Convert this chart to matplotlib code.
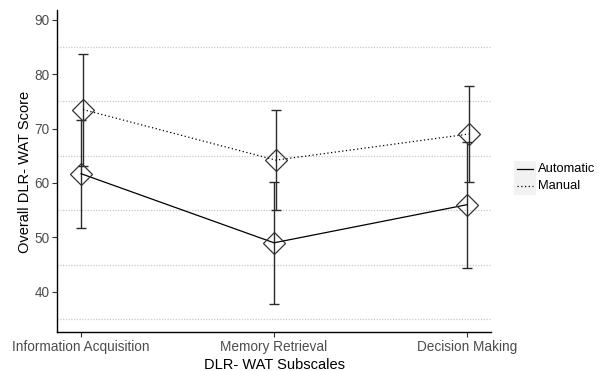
import numpy as np
import matplotlib.pyplot as plt
from matplotlib.lines import Line2D
from matplotlib.patches import Rectangle

plt.rcParams['font.family'] = ['Liberation Sans', 'DejaVu Sans']

# subscales on the x axis
subscales = ["Information Acquisition", "Memory Retrieval", "Decision Making"]

# mean scores and error bar limits per condition
auto_mean = [61.7, 49.0, 56.0]
auto_low = [51.8, 37.8, 44.3]
auto_high = [71.6, 60.2, 67.6]

manual_mean = [73.5, 64.2, 69.0]
manual_low = [63.2, 55.1, 60.1]
manual_high = [83.8, 73.4, 77.8]

series_names = ["Automatic", "Manual"]

x = np.arange(1, len(subscales) + 1)

W, H = 599, 371
fig = plt.figure(figsize=(W / 100, H / 100), dpi=100)
ax = fig.add_axes([57 / W, 1 - 332 / H, (491 - 57) / W, (332 - 10) / H])

tick_col = "#4D4D4D"
grid_col = "#C8C8C8"

# dotted minor grid
for g in [35, 45, 55, 65, 75, 85]:
    ax.axhline(g, color=grid_col, lw=0.9, ls=(0, (1, 1.2)), zorder=0)


def draw_series(xs, mean, low, high, ls):
    mean = np.array(mean)
    yerr = [mean - np.array(low), np.array(high) - mean]
    ax.errorbar(xs, mean, yerr=yerr, fmt="none", ecolor="#2A2A2A",
                elinewidth=1.0, capsize=3.3, capthick=1.0, zorder=2)
    ax.plot(xs, mean, color="black", lw=0.9, ls=ls, zorder=3)
    ax.plot(xs, mean, ls="none", marker="D", ms=11.5, mfc="none",
            mec="#333333", mew=0.9, zorder=4)


draw_series(x, auto_mean, auto_low, auto_high, "-")
draw_series(x + 0.01, manual_mean, manual_low, manual_high, (0, (1, 2)))

ax.set_xlim(0.875, 3.125)
ax.set_ylim(32.6, 91.8)
ax.set_xticks(x)
ax.set_xticklabels(subscales)
ax.set_yticks([40, 50, 60, 70, 80, 90])

for s in ["top", "right"]:
    ax.spines[s].set_visible(False)
for s in ["left", "bottom"]:
    ax.spines[s].set_color("black")
    ax.spines[s].set_linewidth(1.0)

ax.tick_params(axis="both", colors=tick_col, labelsize=9.8, length=3.5,
               width=0.8, pad=2)
ax.tick_params(axis="both", color="#333333")

fig.text(274 / W, 1 - 365 / H, "DLR- WAT Subscales", fontsize=10.5,
         ha="center", va="center")
fig.text(25 / W, 1 - 172 / H, "Overall DLR- WAT Score", fontsize=10.5,
         ha="center", va="center", rotation=90)

# legend keys with grey backgrounds
key_styles = ["-", (0, (1, 2))]
row_y = [169, 186]
for name, ls, ry in zip(series_names, key_styles, row_y):
    fig.add_artist(Rectangle((514 / W, 1 - (ry + 8.5) / H), 22 / W, 17 / H,
                             transform=fig.transFigure, facecolor="#F2F2F2",
                             edgecolor="none", zorder=1))
    fig.add_artist(Line2D([517 / W, 533 / W], [1 - ry / H, 1 - ry / H],
                          transform=fig.transFigure, color="black", lw=0.9,
                          ls=ls, zorder=2))
    fig.text(538 / W, 1 - ry / H, name, fontsize=9.3, ha="left",
             va="center")

fig.savefig("out.png", dpi=100, facecolor="white")
